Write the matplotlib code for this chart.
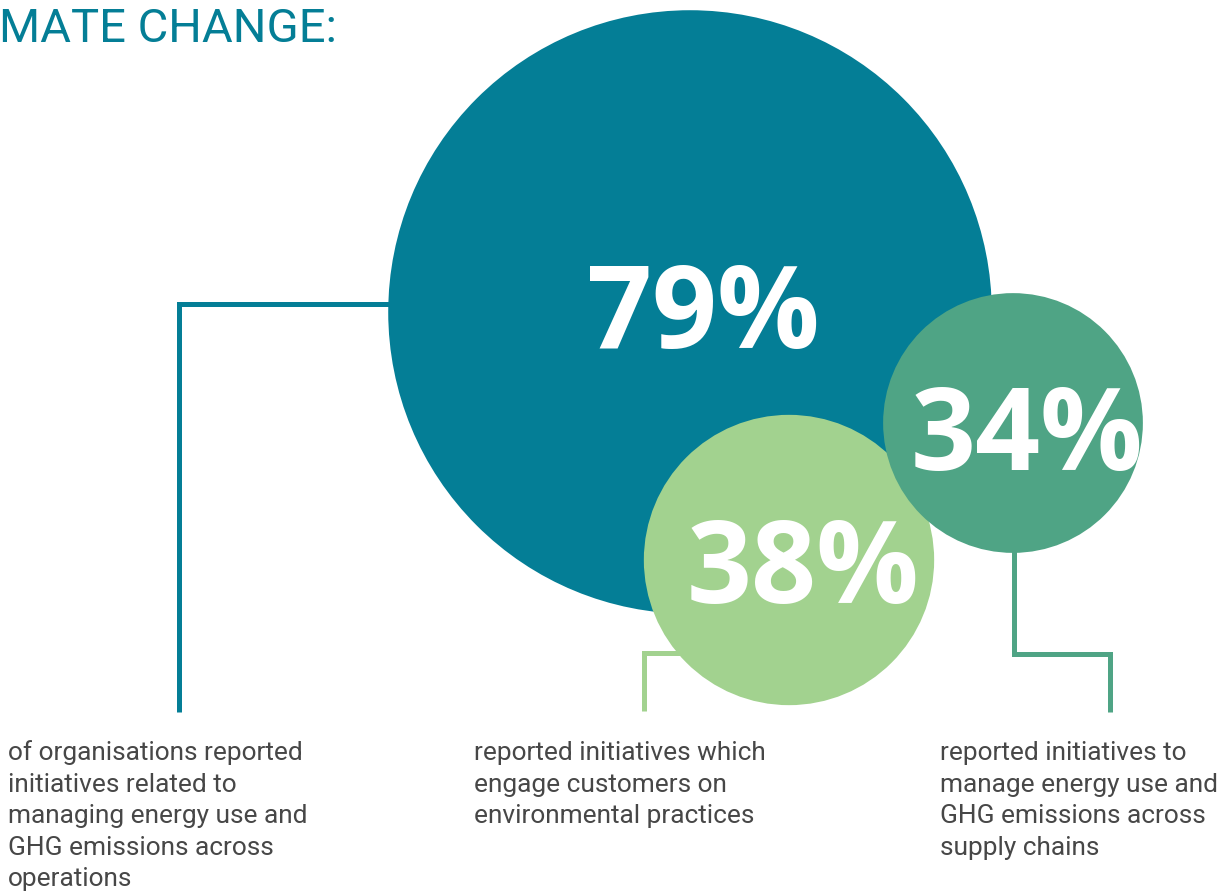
import matplotlib
matplotlib.use("Agg")
from matplotlib import pyplot as plt
from matplotlib.patches import Circle

# share of organisations reporting each kind of initiative
values = [79, 38, 34]
labels = ["79%", "38%", "34%"]
descriptions = [
    ["of organisations reported", "initiatives related to",
     "managing energy use and", "GHG emissions across", "operations"],
    ["reported initiatives which", "engage customers on",
     "environmental practices"],
    ["reported initiatives to", "manage energy use and",
     "GHG emissions across", "supply chains"],
]
title = "MATE CHANGE:"

colors = ["#047E96", "#A2D28F", "#4FA485"]
text_grey = "#474747"

# layout in pixel units (y grows downwards)
centers = [(690, 312), (789, 560), (1013, 423)]
px_per_pct = 3.82
label_pos = [(703, 348), (803, 603), (1027, 470)]
desc_x = [8, 474, 940]
desc_top = 760
desc_step = 31.6

# elbow connectors from each bubble down to its description
connectors = [
    ([390, 178.5, 178.5], [304, 304, 712]),
    ([700, 643.5, 643.5], [653, 653, 711]),
    ([1013.5, 1013.5, 1109.5, 1109.5], [500, 653.5, 653.5, 712]),
]

fig = plt.figure(figsize=(12.31, 8.93), dpi=100)
ax = fig.add_axes([0, 0, 1, 1])
ax.set_xlim(0, 1231)
ax.set_ylim(893, 0)
ax.axis("off")

for (xs, ys), c in zip(connectors, colors):
    ax.plot(xs, ys, color=c, lw=3.6, solid_joinstyle="miter",
            solid_capstyle="butt", zorder=1)

for i, (v, (cx, cy), c) in enumerate(zip(values, centers, colors)):
    ax.add_patch(Circle((cx, cy), v * px_per_pct, color=c, lw=0, zorder=2 + i))

for lab, (x, y) in zip(labels, label_pos):
    ax.text(x, y, lab, ha="center", va="baseline", color="white",
            fontsize=82, fontweight="bold", family="Open Sans", zorder=10)

for lines, x in zip(descriptions, desc_x):
    for j, line in enumerate(lines):
        ax.text(x, desc_top + j * desc_step, line, ha="left", va="baseline",
                color=text_grey, fontsize=18.9, fontweight="normal",
                family="Roboto")

ax.text(-1, 42, title, ha="left", va="baseline", color=colors[0],
        fontsize=34, fontweight="normal", family="Roboto")

fig.savefig("out.png", dpi=100)
